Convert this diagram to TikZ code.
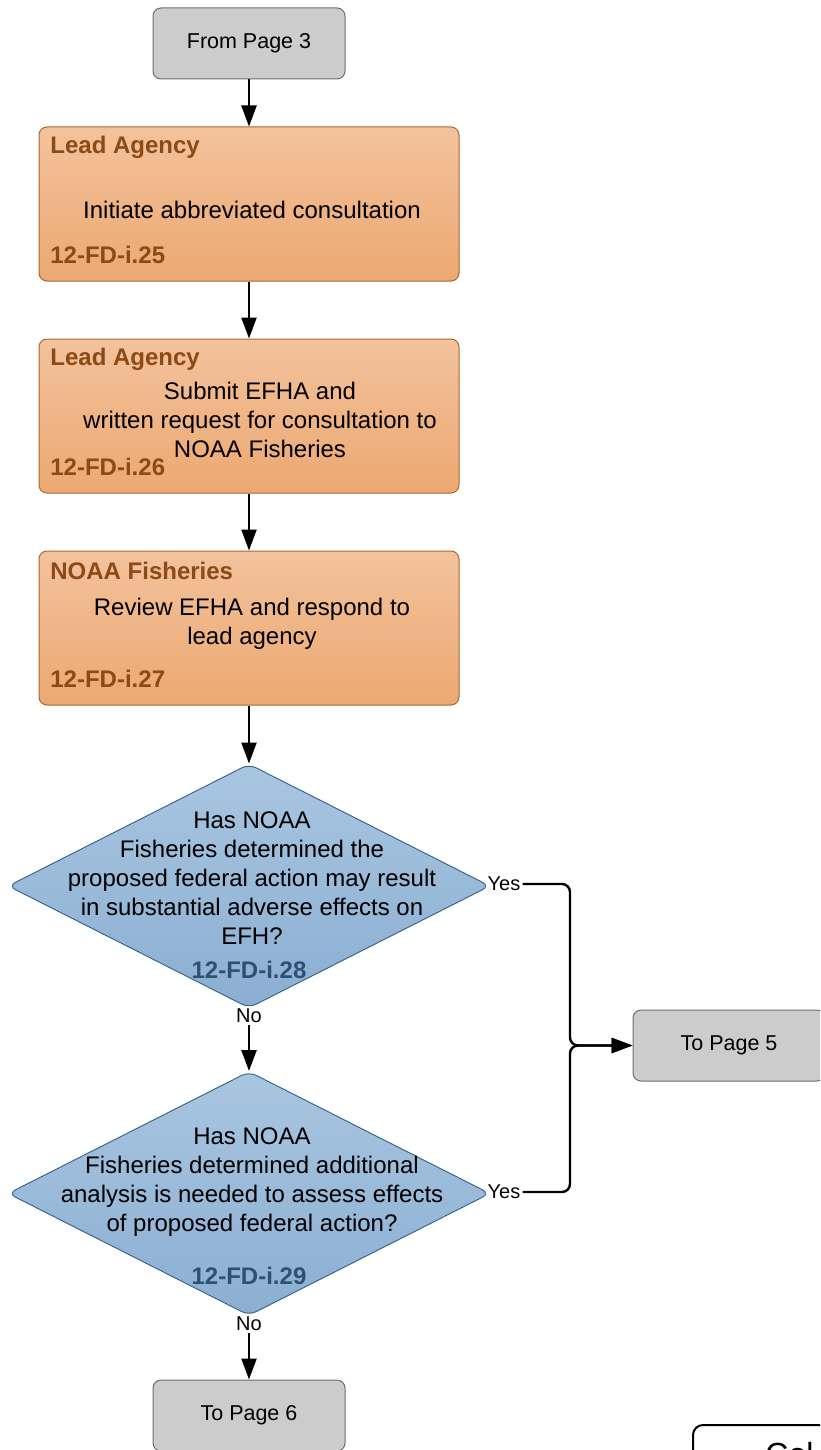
\documentclass[tikz,border=0pt]{standalone}
\usepackage{fontspec}
\setmainfont{Liberation Sans}
\usepackage{tikz}
\usepackage{xcolor}
\usetikzlibrary{arrows.meta,positioning,calc,shapes.geometric}
\definecolor{orgtop}{HTML}{F3C29C}
\definecolor{orgbot}{HTML}{ECA871}
\definecolor{orgline}{HTML}{A8682C}
\definecolor{orgtext}{HTML}{8B4A16}
\definecolor{bluetop}{HTML}{A9C6E0}
\definecolor{bluebot}{HTML}{8BAED2}
\definecolor{blueline}{HTML}{3B6790}
\definecolor{bluetext}{HTML}{2E5173}
\definecolor{pagegray}{HTML}{CCCCCC}
\definecolor{pageline}{HTML}{6E6E6E}

\begin{document}
\begin{tikzpicture}[x=0.5pt,y=-0.5pt,
  page/.style={draw=pageline,fill=pagegray,rounded corners=4pt,minimum width=96pt,minimum height=35.5pt,font=\fontsize{10.75}{13}\selectfont,line width=0.5pt},
  task/.style={draw=orgline,top color=orgtop,bottom color=orgbot,rounded corners=4pt,minimum width=210pt,minimum height=77pt,line width=0.5pt},
  ask/.style={diamond,draw=blueline,top color=bluetop,bottom color=bluebot,rounded corners=4pt,minimum width=241pt,minimum height=122pt,inner sep=0pt,line width=0.5pt},
  body/.style={align=center,font=\fontsize{12}{14.5}\selectfont},
  who/.style={anchor=west,inner sep=0pt,text=orgtext,font=\fontsize{12}{14.5}\selectfont\bfseries},
  ref/.style={anchor=west,inner sep=0pt,text=orgtext,font=\fontsize{12}{14.5}\selectfont\bfseries},
  qref/.style={inner sep=0pt,text=bluetext,font=\fontsize{12}{14.5}\selectfont\bfseries},
  tag/.style={inner sep=1pt,font=\fontsize{10}{12}\selectfont},
  arr/.style={-{Triangle[length=10.5pt,width=7.5pt]},line width=1.2pt,black}
]
\clip (0,0) rectangle (820,1450);

\node[page] (from3) at (249,43.5) {From Page 3};

\node[task] (s25) at (249,204) {};
\node[who] (s25who) at (50,147) {Lead Agency};
\node[body] (s25txt) at (252,210) {Initiate abbreviated consultation};
\node[ref] (s25ref) at (50,255) {12-FD-i.25};

\node[task] (s26) at (249,416) {};
\node[who] (s26who) at (50,359) {Lead Agency};
\node[body] (s26txt) at (260,420) {Submit EFHA and\\written request for consultation to\\NOAA Fisheries};
\node[ref] (s26ref) at (50,467) {12-FD-i.26};

\node[task] (s27) at (249,628) {};
\node[who] (s27who) at (50,571) {NOAA Fisheries};
\node[body] (s27txt) at (252,624) {Review EFHA and respond to\\lead agency};
\node[ref] (s27ref) at (50,679) {12-FD-i.27};

\node[ask] (q28) at (249,886) {};
\node[body] (q28txt) at (252,878.5) {Has NOAA\\Fisheries determined the\\proposed federal action may result\\in substantial adverse effects on\\EFH?};
\node[qref] (q28ref) at (249,970) {12-FD-i.28};

\node[ask] (q29) at (249,1193.5) {};
\node[body] (q29txt) at (252,1182) {Has NOAA\\Fisheries determined additional\\analysis is needed to assess effects\\of proposed federal action?};
\node[qref] (q29ref) at (249,1276) {12-FD-i.29};

\node[page] (to5) at (729,1045.5) {To Page 5};
\node[page] (to6) at (249,1415.5) {To Page 6};

\node[tag] (no28) at (249,1016) {No};
\node[tag] (no29) at (249,1324) {No};
\node[tag] (yes28) at (504,884) {Yes};
\node[tag] (yes29) at (504,1192) {Yes};
\coordinate (join) at (570,1045.5);

\draw[arr] (from3) -- (s25);
\draw[arr] (s25) -- (s26);
\draw[arr] (s26) -- (s27);
\draw[arr] (s27) -- (q28);
\draw[arr] (no28) -- (q29);
\draw[arr] (no29) -- (to6);
\draw[arr,rounded corners=4pt] (yes28.east) -| (join) -- (to5.west);
\draw[arr,rounded corners=4pt] (yes29.east) -| (join) -- (to5.west);

% key box, cut by the page edge
\draw[line width=1pt,rounded corners=5pt,fill=white] (693,1425) rectangle (900,1500);
\node[anchor=base west,inner sep=0pt,font=\fontsize{16}{19}\selectfont] (key) at (765,1465) {Col};
\end{tikzpicture}
\end{document}
